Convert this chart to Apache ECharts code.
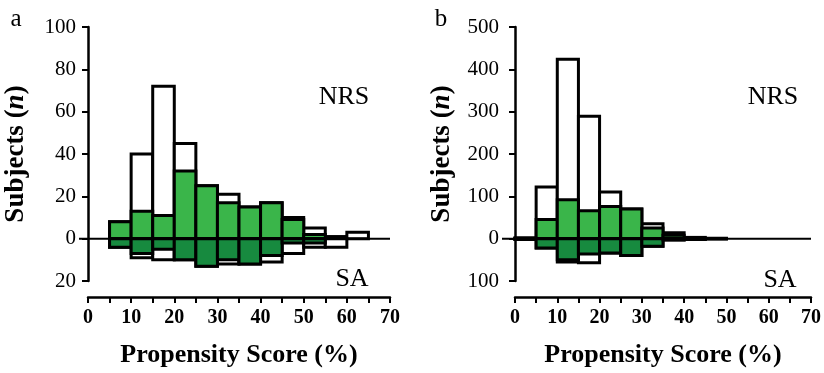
<!DOCTYPE html>
<html>
<head>
<meta charset="utf-8">
<script src="https://cdn.jsdelivr.net/npm/echarts@6/dist/echarts.min.js"></script>
<style>html,body{margin:0;padding:0;background:#fff;}#c{width:824px;height:373px;}</style>
</head>
<body>
<div id="c"></div>
<script>
// ---- data ----
const binWidth = 5;
// Panel a
const binStartsA = [5,10,15,20,25,30,35,40,45,50,55,60];
const nrsAllA     = [8,40,72,45,25,21,15,17,10,5,1,3];
const nrsMatchedA = [8,13,11,32,25,17,15,17,9,2,0,0];
const saAllA      = [4,9,10,10,13,12,12,11,7,4,4,0];
const saMatchedA  = [4,7,5,10,13,10,12,8,2,2,0,0];
// Panel b
const binStartsB = [0,5,10,15,20,25,30,35,40,45];
const nrsAllB     = [2,122,424,289,110,70,35,14,3,1];
const nrsMatchedB = [1,45,92,66,76,70,25,8,1,0];
const saAllB      = [2,22,55,57,34,40,18,3,2,1];
const saMatchedB  = [2,22,50,36,34,40,18,3,1,0];
// Axis ticks
const xTicks = [0,10,20,30,40,50,60,70];
const yTicksA = [-20,0,20,40,60,80,100];
const yTicksB = [-100,0,100,200,300,400,500];

// ---- styles ----
const SERIF = '"Liberation Serif","Times New Roman",serif';
const GREEN = '#3ab54a';
const DARK = '#178a3f';
const BORDER = 3;

function binData(starts, vals, sign) {
  return starts.map((s, i) => [s, s + binWidth, sign * vals[i]]);
}
function barSeries(idx, data, fill) {
  return {
    type: 'custom', xAxisIndex: idx, yAxisIndex: idx, data: data,
    encode: { x: [0, 1], y: 2 },
    renderItem: function (params, api) {
      const v = api.value(2);
      if (v === 0) return null;
      const p0 = api.coord([api.value(0), 0]);
      const p1 = api.coord([api.value(1), v]);
      return {
        type: 'rect',
        shape: { x: p0[0], y: Math.min(p0[1], p1[1]), width: p1[0] - p0[0], height: Math.abs(p1[1] - p0[1]) },
        style: { fill: fill, stroke: '#000', lineWidth: BORDER }
      };
    }
  };
}
function zeroLine(idx, yOff, xMax) {
  return {
    type: 'custom', xAxisIndex: idx, yAxisIndex: idx, data: [[xMax, 0]],
    encode: { x: 0, y: 1 },
    renderItem: function (params, api) {
      const pEnd = api.coord([api.value(0), 0]);
      return {
        type: 'line',
        shape: { x1: params.coordSys.x - yOff, y1: pEnd[1], x2: pEnd[0], y2: pEnd[1] },
        style: { stroke: '#000', lineWidth: 2 }
      };
    }
  };
}
function xAxisDef(idx) {
  return {
    type: 'value', gridIndex: idx, min: 0, max: 70, interval: 5, offset: 16,
    position: 'bottom',
    axisLine: { show: true, onZero: false, lineStyle: { color: '#000', width: 2.5 } },
    axisTick: { show: true, length: 6, lineStyle: { color: '#000', width: 2 } },
    axisLabel: {
      color: '#000', fontFamily: SERIF, fontWeight: 'bold', fontSize: 20, margin: 11,
      formatter: v => (xTicks.indexOf(v) >= 0 ? String(v) : '')
    },
    splitLine: { show: false },
    name: 'Propensity Score (%)', nameLocation: 'middle', nameGap: 45,
    nameTextStyle: { color: '#000', fontFamily: SERIF, fontWeight: 'bold', fontSize: 26 }
  };
}
function yAxisDef(idx, ticks, off, gap) {
  return {
    type: 'value', gridIndex: idx, min: ticks[0], max: ticks[ticks.length - 1],
    interval: ticks[1] - ticks[0], offset: off,
    axisLine: { show: true, lineStyle: { color: '#000', width: 2.5 } },
    axisTick: { show: true, length: 6, lineStyle: { color: '#000', width: 2 } },
    axisLabel: { color: '#000', fontFamily: SERIF, fontSize: 21, margin: 3, formatter: v => String(Math.abs(v)) },
    splitLine: { show: false },
    name: '{b|Subjects (}{i|n}{b|)}', nameLocation: 'middle', nameGap: gap,
    nameTextStyle: {
      color: '#000', fontFamily: SERIF, fontWeight: 'bold', fontSize: 27,
      rich: {
        b: { color: '#000', fontFamily: SERIF, fontWeight: 'bold', fontSize: 27 },
        i: { color: '#000', fontFamily: SERIF, fontWeight: 'bold', fontStyle: 'italic', fontSize: 27 }
      }
    }
  };
}
function txt(x, y, s, size) {
  return { type: 'text', x: x, y: y, style: { text: s, fill: '#000', font: size + 'px ' + SERIF, textAlign: 'center', textVerticalAlign: 'middle' } };
}

const chart = echarts.init(document.getElementById('c'), null, { renderer: 'canvas' });
chart.setOption({
  backgroundColor: '#fff',
  animation: false,
  grid: [
    { left: 88, width: 302, top: 27, height: 260 },
    { left: 515, width: 303, top: 27, height: 260 }
  ],
  xAxis: [xAxisDef(0), xAxisDef(1)],
  yAxis: [yAxisDef(0, yTicksA, 9, 49), yAxisDef(1, yTicksB, 13, 46)],
  series: [
    barSeries(0, binData(binStartsA, nrsAllA, 1), '#fff'),
    barSeries(0, binData(binStartsA, nrsMatchedA, 1), GREEN),
    barSeries(0, binData(binStartsA, saAllA, -1), '#fff'),
    barSeries(0, binData(binStartsA, saMatchedA, -1), DARK),
    zeroLine(0, 9, 70),
    barSeries(1, binData(binStartsB, nrsAllB, 1), '#fff'),
    barSeries(1, binData(binStartsB, nrsMatchedB, 1), GREEN),
    barSeries(1, binData(binStartsB, saAllB, -1), '#fff'),
    barSeries(1, binData(binStartsB, saMatchedB, -1), DARK),
    zeroLine(1, 13, 70)
  ],
  graphic: [
    txt(16, 19, 'a', 25),
    txt(441, 19, 'b', 25),
    txt(344, 97, 'NRS', 26),
    txt(352, 279, 'SA', 26),
    txt(773, 97, 'NRS', 26),
    txt(780, 280, 'SA', 26)
  ]
});
</script>
</body>
</html>
